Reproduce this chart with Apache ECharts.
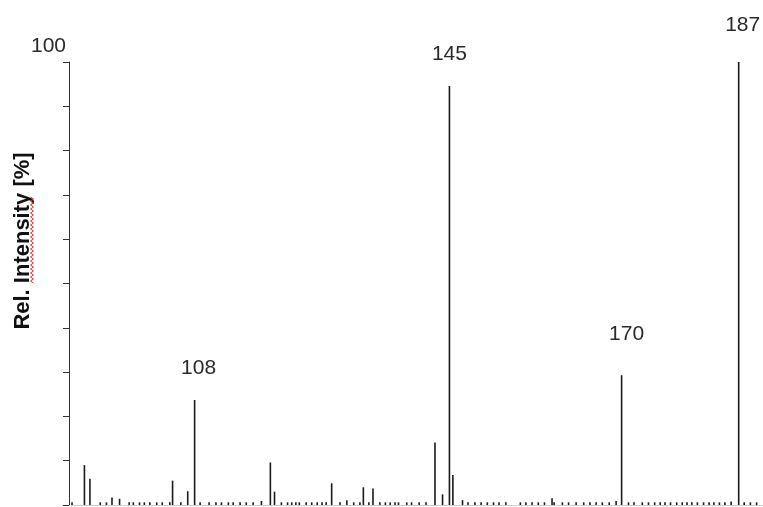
<!DOCTYPE html>
<html>
<head>
<meta charset="utf-8">
<title>Mass spectrum</title>
<script src="https://cdn.jsdelivr.net/npm/echarts@6/dist/echarts.min.js"></script>
<style>
  html, body { margin: 0; padding: 0; background: #fff; }
  #chart { width: 763px; height: 507px; }
</style>
</head>
<body>
<div id="chart"></div>
<script>
// m/z positions of the peaks
const peakMz = [
    90.2, 92.0, 92.8, 94.3, 95.2, 96.0, 97.1, 98.5, 99.1, 100.0,
    100.7, 101.5, 102.5, 103.3, 104.4, 104.8, 106.0, 107.0, 108, 108.8,
    110.1, 111.1, 111.9, 112.9, 113.6, 114.6, 115.5, 116.5, 117.7, 119.0,
    119.6, 120.6, 121.5, 122.1, 122.7, 123.2, 124.2, 125.0, 125.8, 126.5,
    127.1, 127.9, 129.1, 130.1, 131.1, 132.0, 132.5, 133.3, 133.9, 134.9,
    135.7, 136.4, 137.1, 137.6, 138.8, 139.5, 140.6, 141.6, 142.9, 144.0,
    145, 145.5, 146.9, 147.7, 148.7, 149.6, 150.5, 151.4, 152.2, 153.2,
    155.3, 156.1, 157.0, 157.9, 158.8, 159.9, 160.2, 161.4, 162.3, 163.4,
    164.5, 165.4, 166.3, 167.2, 168.2, 169.2, 170, 171.0, 171.8, 173.0,
    173.9, 174.8, 175.6, 176.3, 177.1, 178.0, 178.8, 179.5, 180.2, 181.0,
    181.9, 182.7, 183.4, 184.2, 185.0, 185.9, 187, 187.8, 188.7, 189.6
];

// relative intensity [%] for each peak above
const peakIntensity = [
    0.6, 9.0, 5.9, 0.6, 0.6, 1.7, 1.4, 0.6, 0.6, 0.6,
    0.6, 0.6, 0.6, 0.6, 0.6, 5.5, 0.6, 3.1, 23.7, 0.6,
    0.6, 0.6, 0.6, 0.6, 0.6, 0.6, 0.6, 0.6, 0.9, 9.6,
    3.0, 0.6, 0.6, 0.6, 0.6, 0.6, 0.6, 0.6, 0.6, 0.6,
    0.6, 4.9, 0.6, 1.1, 0.6, 0.6, 4.0, 0.6, 3.7, 0.6,
    0.6, 0.6, 0.6, 0.6, 0.6, 0.6, 0.6, 0.6, 14.1, 2.4,
    94.6, 6.8, 1.1, 0.6, 0.6, 0.6, 0.6, 0.6, 0.6, 0.6,
    0.6, 0.6, 0.6, 0.6, 0.6, 1.5, 0.6, 0.6, 0.6, 0.6,
    0.6, 0.6, 0.6, 0.6, 0.6, 0.9, 29.3, 0.6, 0.6, 0.6,
    0.6, 0.6, 0.6, 0.6, 0.6, 0.6, 0.6, 0.6, 0.6, 0.6,
    0.6, 0.6, 0.6, 0.6, 0.6, 0.8, 100, 0.6, 0.6, 0.6
];

// peaks that carry an m/z label
const labeledPeaks = [108, 145, 170, 187];

// y axis: only the top value is printed
const yTickLabels = ['100'];

const yAxisTitle = 'Rel. Intensity [%]';

// small label nudges so they sit like in the picture
const labelOffsets = {
    108: [4, 0],
    145: [0, 0],
    170: [5, -9],
    187: [4, -5]
};

const chart = echarts.init(document.getElementById('chart'));

const barData = peakMz.map((x, i) => {
    const item = { value: [x, peakIntensity[i]] };
    if (labeledPeaks.includes(x)) {
        item.label = {
            show: true,
            position: 'top',
            distance: 21,
            offset: labelOffsets[x],
            formatter: String(x)
        };
    }
    return item;
});

// red spell-check squiggle under "Intensity"
const squiggle = [];
for (let y = 197, k = 0; y <= 283; y += 2, k++) {
    squiggle.push([k % 2 === 0 ? 30.5 : 33.5, y]);
}

const option = {
    animation: false,
    textStyle: { fontFamily: 'Liberation Sans, Arial, sans-serif' },
    grid: { left: 69, right: 0, top: 62, bottom: 2 },
    xAxis: {
        type: 'value',
        min: 89.76,
        max: 190.53,
        axisLine: { show: true, lineStyle: { color: '#cfcfcf', width: 1 } },
        axisTick: { show: false },
        axisLabel: { show: false },
        splitLine: { show: false }
    },
    yAxis: {
        type: 'value',
        min: 0,
        max: 100,
        interval: 10,
        axisLine: { show: true, lineStyle: { color: '#333', width: 1 } },
        axisTick: { show: true, length: 6, lineStyle: { color: '#333' } },
        axisLabel: {
            color: '#2a2a2a',
            fontSize: 21,
            margin: 3,
            verticalAlign: 'bottom',
            padding: [0, 0, 5, 0],
            formatter: v => (yTickLabels.includes(String(v)) ? String(v) : '')
        },
        splitLine: { show: false }
    },
    series: [{
        type: 'bar',
        barWidth: 1.6,
        itemStyle: { color: '#1a1a1a' },
        label: { color: '#2a2a2a', fontSize: 21 },
        data: barData
    }],
    graphic: [
        {
            type: 'text',
            x: 23,
            y: 241,
            rotation: Math.PI / 2,
            style: {
                text: yAxisTitle,
                fontFamily: 'Liberation Sans, Arial, sans-serif',
                fontSize: 22,
                fontWeight: 'bold',
                fill: '#111',
                align: 'center',
                verticalAlign: 'middle'
            }
        },
        {
            type: 'polyline',
            shape: { points: squiggle },
            style: { stroke: '#e03030', lineWidth: 1, fill: null }
        }
    ]
};

chart.setOption(option);
</script>
</body>
</html>
